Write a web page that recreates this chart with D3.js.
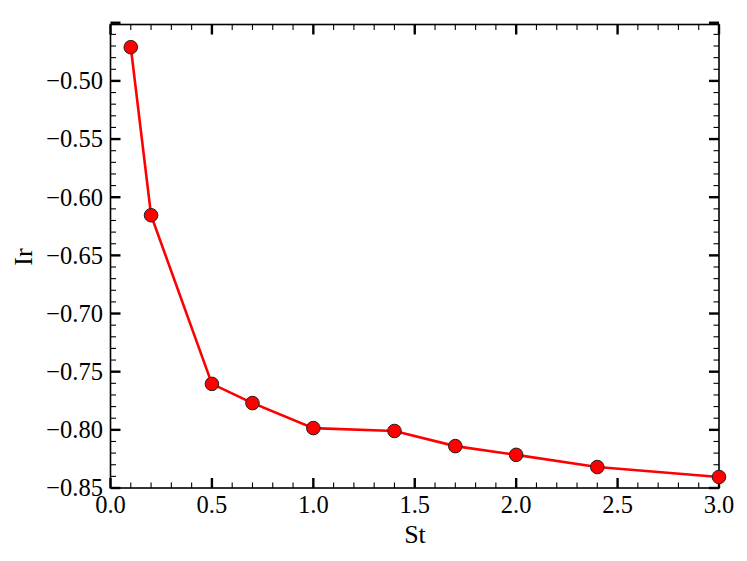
<!DOCTYPE html>
<html>
<head>
<meta charset="utf-8">
<script src="https://cdn.jsdelivr.net/npm/d3@7"></script>
<style>
  body { margin: 0; background: #fff; }
  text { font-family: "Liberation Serif", "DejaVu Serif", serif; fill: #000; }
</style>
</head>
<body>
<svg id="chart"></svg>
<script>
// data
var stValues = [0.1, 0.2, 0.5, 0.7, 1.0, 1.4, 1.7, 2.0, 2.4, 3.0];
var irValues = [-0.471, -0.6155, -0.7605, -0.777, -0.7985, -0.801, -0.814, -0.8215, -0.832, -0.8405];
var xTicks = [0.0, 0.5, 1.0, 1.5, 2.0, 2.5, 3.0];
var yTicks = [-0.85, -0.80, -0.75, -0.70, -0.65, -0.60, -0.55, -0.50];

var margin = {top: 24.5, right: 28, bottom: 73, left: 110.5},
    width = 747 - margin.left - margin.right,
    height = 561 - margin.top - margin.bottom;

var svg = d3.select('#chart')
    .attr('width', 747)
    .attr('height', 561);

var g = svg.append('g')
    .attr('transform', 'translate(' + margin.left + ',' + margin.top + ')');

var x = d3.scaleLinear().domain([0, 3]).range([0, width]);
var y = d3.scaleLinear().domain([-0.85, -0.4515]).range([height, 0]);

var minorX = d3.range(0, 3.001, 0.1).filter(function(v) { return Math.abs(v * 2 - Math.round(v * 2)) > 1e-6; });
var minorY = d3.range(-0.85, -0.45, 0.01).filter(function(v) { return Math.abs(v * 20 - Math.round(v * 20)) > 1e-6; });

function fmt(d) {
    return d3.format('.2f')(d).replace('-', '\u2212');
}

// ticks on all four sides, pointing inward
function drawTicks(sel, vals, len, w) {
    vals.forEach(function(v) {
        var px = x(v);
        sel.append('line').attr('x1', px).attr('x2', px).attr('y1', height).attr('y2', height - len)
            .attr('stroke', '#000').attr('stroke-width', w);
        sel.append('line').attr('x1', px).attr('x2', px).attr('y1', 0).attr('y2', len)
            .attr('stroke', '#000').attr('stroke-width', w);
    });
}
function drawYTicks(sel, vals, len, w) {
    vals.forEach(function(v) {
        var py = y(v);
        sel.append('line').attr('x1', 0).attr('x2', len).attr('y1', py).attr('y2', py)
            .attr('stroke', '#000').attr('stroke-width', w);
        sel.append('line').attr('x1', width).attr('x2', width - len).attr('y1', py).attr('y2', py)
            .attr('stroke', '#000').attr('stroke-width', w);
    });
}

var ticks = g.append('g').attr('class', 'ticks');
drawTicks(ticks, minorX, 5.5, 1.1);
drawYTicks(ticks, minorY, 5.5, 1.1);
drawTicks(ticks, xTicks, 10, 2.4);
drawYTicks(ticks, yTicks.concat([-0.45]), 10, 2.4);

g.append('rect')
    .attr('width', width)
    .attr('height', height)
    .attr('fill', 'none')
    .attr('stroke', '#000')
    .attr('stroke-width', 1.6);

// tick labels
g.selectAll('.xlabel')
    .data(xTicks)
    .enter()
    .append('text')
    .attr('class', 'xlabel')
    .attr('x', function(d) { return x(d); })
    .attr('y', height + 24.5)
    .attr('text-anchor', 'middle')
    .style('font-size', '24.5px')
    .text(function(d) { return d3.format('.1f')(d); });

g.selectAll('.ylabel')
    .data(yTicks)
    .enter()
    .append('text')
    .attr('class', 'ylabel')
    .attr('x', -7.5)
    .attr('y', function(d) { return y(d) + 8.3; })
    .attr('text-anchor', 'end')
    .style('font-size', '24.5px')
    .text(fmt);

// axis titles
svg.append('text')
    .attr('x', 415)
    .attr('y', 543)
    .attr('text-anchor', 'middle')
    .style('font-size', '26px')
    .text('St');

svg.append('text')
    .attr('transform', 'translate(32,257) rotate(-90)')
    .attr('text-anchor', 'middle')
    .style('font-size', '26px')
    .text('Ir');

// series
var points = stValues.map(function(d, i) { return [d, irValues[i]]; });

var line = d3.line()
    .x(function(d) { return x(d[0]); })
    .y(function(d) { return y(d[1]); });

var plot = g.append('g');

plot.append('path')
    .datum(points)
    .attr('d', line)
    .attr('fill', 'none')
    .attr('stroke', '#ff0000')
    .attr('stroke-width', 2.6);

plot.selectAll('.pt')
    .data(points)
    .enter()
    .append('circle')
    .attr('class', 'pt')
    .attr('cx', function(d) { return x(d[0]); })
    .attr('cy', function(d) { return y(d[1]); })
    .attr('r', 6.8)
    .attr('fill', '#ff0000')
    .attr('stroke', '#222')
    .attr('stroke-width', 1);
</script>
</body>
</html>
